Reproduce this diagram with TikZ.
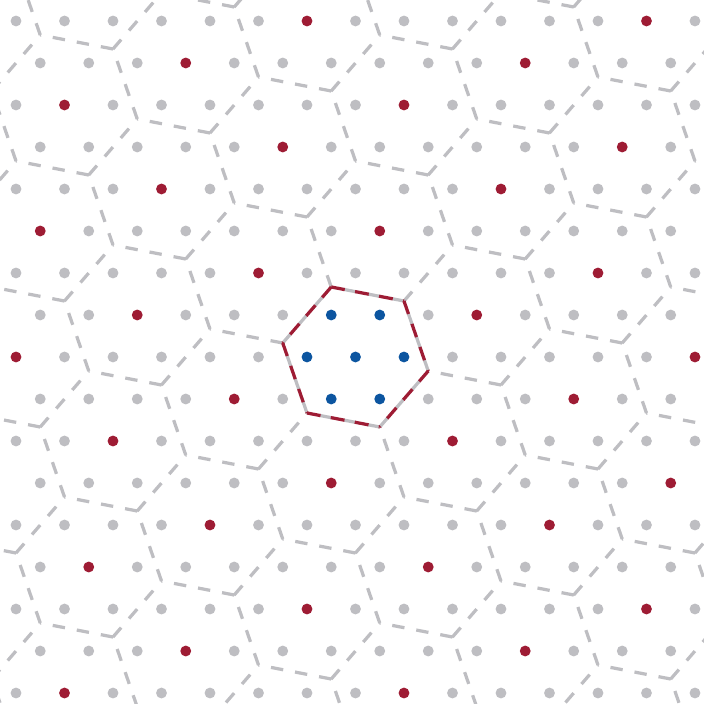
\documentclass[tikz,border=0pt]{standalone}
\definecolor{dotgrey}{RGB}{190,190,194}
\definecolor{cellred}{RGB}{158,28,52}
\definecolor{siteblue}{RGB}{12,85,160}
\tikzset{
  celledge/.style={line width=1.9pt},
  greyedge/.style={celledge, draw=dotgrey, dash pattern=on 7.3pt off 7.05pt},
  rededge/.style={celledge, draw=cellred, dash pattern=on 8.2pt off 6.15pt, dash phase=7.65pt},
}
\begin{document}
\begin{tikzpicture}[x=1cm,y=1cm]
\def\R{1.527525}
\useasboundingbox (-7.330,-7.155) rectangle (7.186,7.361);
\clip (-7.330,-7.155) rectangle (7.186,7.361);
% grey cell boundaries, each shared edge once
\foreach \i in {-6,...,6} \foreach \j in {-5,...,5} {
  \begin{scope}[shift={({2.5*\i+0.5*\j},{(\i+3*\j)*0.8660254})}]
    \draw[greyedge] (-70.8934:\R) -- (-10.8934:\R);
    \draw[greyedge] (-10.8934:\R) -- (49.1066:\R);
    \draw[greyedge] (49.1066:\R) -- (109.1066:\R);
  \end{scope}
}
% central cell, drawn over the grey with the opposite phase
\draw[rededge] (-70.8934:\R) -- (-10.8934:\R);
\draw[rededge] (-10.8934:\R) -- (49.1066:\R);
\draw[rededge] (49.1066:\R) -- (109.1066:\R);
\draw[rededge] (169.1066:\R) -- (109.1066:\R);
\draw[rededge] (229.1066:\R) -- (169.1066:\R);
\draw[rededge] (289.1066:\R) -- (229.1066:\R);
% lattice sites
\foreach \n in {-9,...,9} \foreach \m in {-13,...,13} {
  \pgfmathtruncatemacro{\f}{mod(3*\m+\n+700,7)}
  \pgfmathtruncatemacro{\b}{(abs(\m)+abs(\n)+abs(\m+\n))<=2 ? 1 : 0}
  \ifnum\b=1 \def\col{siteblue}\else\ifnum\f=0 \def\col{cellred}\else\def\col{dotgrey}\fi\fi
  \fill[\col] ({\m+\n/2},{\n*0.8660254}) circle (0.112);
}
\end{tikzpicture}
\end{document}
